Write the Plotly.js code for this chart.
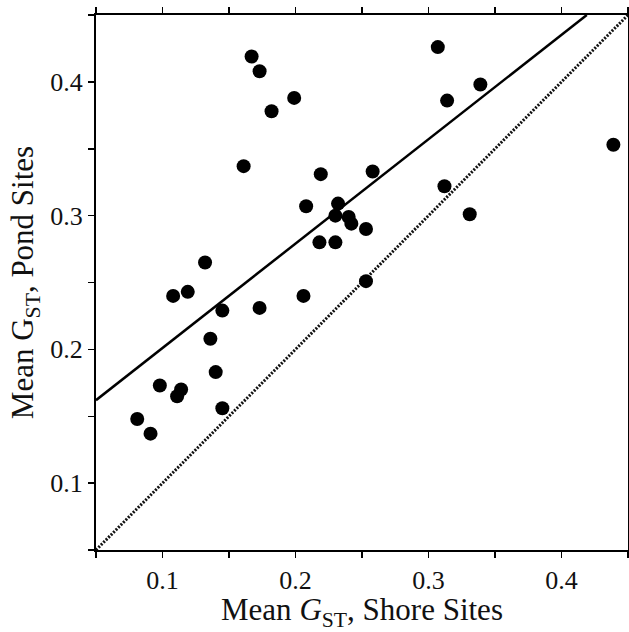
<!DOCTYPE html>
<html>
<head>
<meta charset="utf-8">
<script src="https://cdn.plot.ly/plotly-3.0.1.min.js"></script>
<style>html,body{margin:0;padding:0;background:#fff;}#chart{width:629px;height:632px;}</style>
</head>
<body>
<div id="chart"></div>
<script>
// Mean G_ST at shore sites (x) vs pond sites (y), one point per locus
var shoreGst = [0.167, 0.173, 0.199, 0.182, 0.161, 0.219, 0.208, 0.218, 0.132, 0.108, 0.119, 0.206,
                0.145, 0.173, 0.307, 0.339, 0.314, 0.439, 0.258, 0.312, 0.232, 0.230, 0.240, 0.242,
                0.253, 0.230, 0.331, 0.253, 0.136, 0.140, 0.098, 0.114, 0.111, 0.145, 0.081, 0.091];
var pondGst  = [0.419, 0.408, 0.388, 0.378, 0.337, 0.331, 0.307, 0.280, 0.265, 0.240, 0.243, 0.240,
                0.229, 0.231, 0.426, 0.398, 0.386, 0.353, 0.333, 0.322, 0.309, 0.300, 0.299, 0.294,
                0.290, 0.280, 0.301, 0.251, 0.208, 0.183, 0.173, 0.170, 0.165, 0.156, 0.148, 0.137];

// Fitted regression line (end points)
var fitX = [0.05, 0.419];
var fitY = [0.162, 0.45];

// 1:1 reference line
var equalX = [0.05, 0.45];
var equalY = [0.05, 0.45];

// Ticks
var tickValues = [0.1, 0.2, 0.3, 0.4];
var tickLabels = ['0.1', '0.2', '0.3', '0.4'];
var minorTickValues = [0.05, 0.15, 0.25, 0.35, 0.45];

var FONT = '"Liberation Serif", "DejaVu Serif", serif';

var traces = [
  {x: equalX, y: equalY, mode: 'lines', line: {color: '#111', width: 3, dash: '2px,1.5px'}, hoverinfo: 'skip'},
  {x: fitX, y: fitY, mode: 'lines', line: {color: '#000', width: 2.5}, hoverinfo: 'skip'},
  {x: shoreGst, y: pondGst, mode: 'markers', marker: {color: '#000', size: 14, line: {width: 0}}}
];

var axisCommon = {
  range: [0.05, 0.45],
  tickmode: 'array',
  tickvals: tickValues,
  ticktext: tickLabels,
  minor: {tickmode: 'array', tickvals: minorTickValues, ticks: 'outside', ticklen: 6, tickwidth: 1.5, tickcolor: '#000', showgrid: false},
  showgrid: false,
  zeroline: false,
  showline: true,
  linecolor: '#000',
  linewidth: 2,
  mirror: 'ticks',
  ticks: 'outside',
  ticklen: 6,
  tickwidth: 1.5,
  tickcolor: '#000',
  tickfont: {family: FONT, size: 26, color: '#111'},
  automargin: false
};

var layout = {
  width: 629,
  height: 632,
  margin: {l: 96, r: 1, t: 15, b: 82},
  paper_bgcolor: '#fff',
  plot_bgcolor: '#fff',
  showlegend: false,
  font: {family: FONT, color: '#111'},
  xaxis: Object.assign({}, axisCommon, {
    title: {text: 'Mean <i>G</i><sub>ST</sub>, Shore Sites', font: {family: FONT, size: 31, color: '#111'}, standoff: 6}
  }),
  yaxis: Object.assign({}, axisCommon, {
    title: {text: 'Mean G<sub>ST</sub>, Pond Sites', font: {family: FONT, size: 31, color: '#111'}, standoff: 7}
  })
};

Plotly.newPlot('chart', traces, layout, {displayModeBar: false, staticPlot: true});
</script>
</body>
</html>
